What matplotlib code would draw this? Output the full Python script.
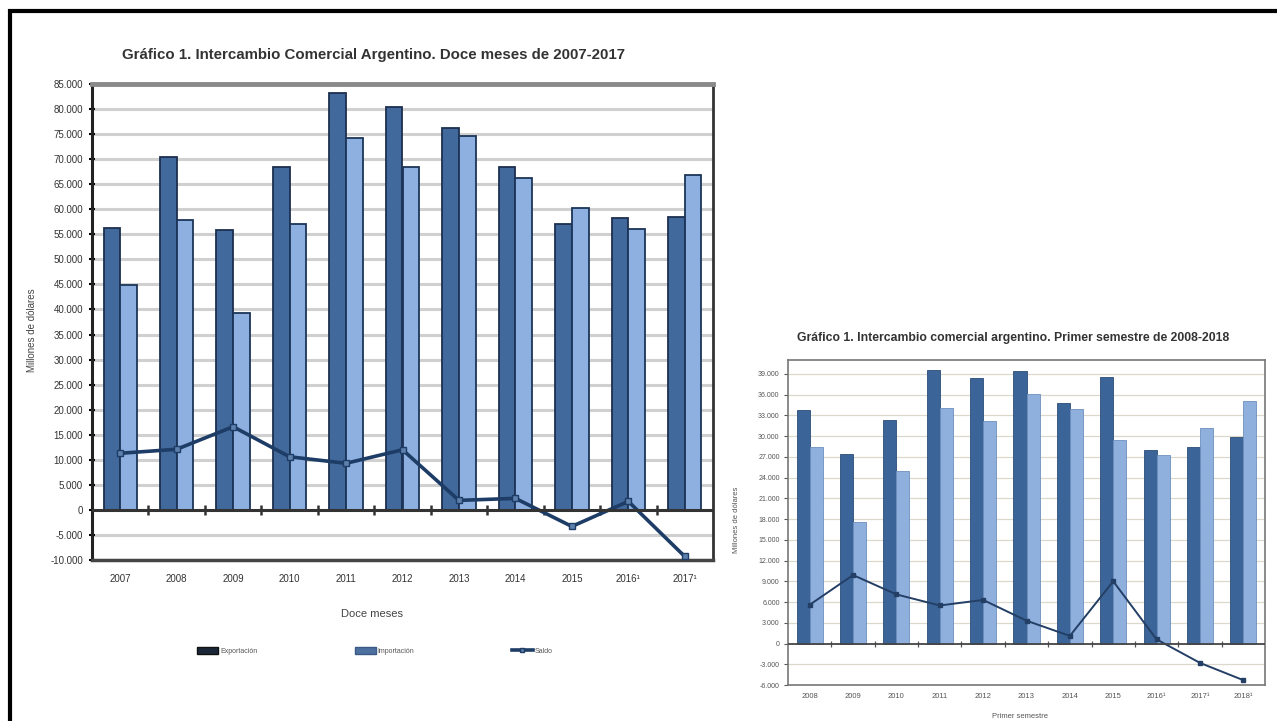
import numpy as np
import matplotlib
matplotlib.use("Agg")
from matplotlib import pyplot as plt
from matplotlib.patches import Rectangle, Patch
from matplotlib.lines import Line2D

plt.rcParams['font.family'] = ['Liberation Sans Narrow', 'Liberation Sans', 'DejaVu Sans']

# Doce meses 2007-2017 (millones de dolares)
years_12m = ["2007", "2008", "2009", "2010", "2011", "2012", "2013", "2014", "2015", "2016¹", "2017¹"]
expo_12m = [56200, 70400, 55900, 68400, 83300, 80400, 76300, 68400, 57000, 58200, 58500]
impo_12m = [44800, 57900, 39300, 57100, 74200, 68400, 74600, 66200, 60300, 56100, 66900]
saldo_12m = [11300, 12100, 16600, 10600, 9300, 12000, 1900, 2300, -3300, 1700, -9300]

# Primer semestre 2008-2018
years_sem = ["2008", "2009", "2010", "2011", "2012", "2013", "2014", "2015", "2016¹", "2017¹", "2018¹"]
expo_sem = [33700, 27400, 32300, 39600, 38400, 39400, 34800, 38600, 28000, 28400, 29800]
impo_sem = [28400, 17600, 25000, 34100, 32200, 36100, 33900, 29400, 27300, 31100, 35000]
saldo_sem = [5600, 9900, 7100, 5500, 6300, 3300, 1100, 9000, 600, -2800, -5300]

DARK = '#41699b'
LIGHT = '#8db0e0'
NAVY = '#1d3c66'


def fmt(v):
    return f"{v:,}".replace(",", ".")


fig = plt.figure(figsize=(12.77, 7.21), dpi=100)

# outer frame
fig.patches.append(Rectangle((10 / 1277, -0.02), 1.2, 1 - 11 / 721 + 0.02,
                             transform=fig.transFigure, fill=False, lw=3, ec='black'))

# ---------------- left chart ----------------
ax = fig.add_axes([92 / 1277, 1 - 560 / 721, 621 / 1277, 476 / 721])
x = np.arange(len(years_12m))
w = 0.295
ax.bar(x - w / 2, expo_12m, w, color=DARK, edgecolor='#1c2f4f', lw=1.3, zorder=3)
ax.bar(x + w / 2, impo_12m, w, color=LIGHT, edgecolor='#1c3558', lw=1.3, zorder=3)
ax.plot(x, saldo_12m, color=NAVY, lw=2.6, marker='s', ms=5, mfc='#5d80ad', mec=NAVY, zorder=4)
ax.set_xlim(-0.5, len(x) - 0.5)
ax.set_ylim(-10000, 85000)
yt = np.arange(-10000, 85001, 5000)
ax.set_yticks(yt)
ax.set_yticklabels([fmt(v) for v in yt], fontsize=7, color='#333333')
ax.set_xticks(x)
ax.set_xticklabels(years_12m, fontsize=7, color='#333333')
ax.tick_params(axis='x', length=0, pad=10)
ax.tick_params(axis='y', direction='inout', length=5, width=1.5, color='black', pad=4)
for v in yt:
    if v != 0:
        ax.axhline(v, color='#d0d0d0', lw=2.2, zorder=1)
ax.axhline(0, color='#333333', lw=2.2, zorder=5)
ax.spines['top'].set_color('#8a8a8a')
ax.spines['top'].set_linewidth(3.5)
ax.spines['left'].set_color('#222222')
ax.spines['left'].set_linewidth(2.2)
ax.spines['bottom'].set_color('#444444')
ax.spines['bottom'].set_linewidth(2.5)
ax.spines['right'].set_color('#333333')
ax.spines['right'].set_linewidth(2)
sec = ax.secondary_xaxis(10000 / 95000)
sec.set_xticks(x[:-1] + 0.5)
sec.set_xticklabels([])
sec.tick_params(direction='inout', length=7, width=1.8, color='#333333')
sec.spines['bottom'].set_visible(False)
sec.spines['top'].set_visible(False)

fig.text(373 / 1277, 1 - 55 / 721, "Gráfico 1. Intercambio Comercial Argentino. Doce meses de 2007-2017",
         ha='center', va='center', fontsize=10.8, fontweight='bold', color='#333333')
fig.text(32 / 1277, 1 - 330 / 721, "Millones de dólares", rotation=90, ha='center', va='center',
         fontsize=7, color='#444444')
fig.text(372 / 1277, 1 - 614 / 721, "Doce meses", ha='center', va='center', fontsize=8, color='#444444')

handles = [Patch(facecolor='#1b2738', edgecolor='#111111'),
           Patch(facecolor='#4c70a0', edgecolor='#3a5a85'),
           Line2D([], [], color=NAVY, lw=2.6, marker='s', ms=3, mfc='#5d80ad')]
fig.legend(handles, ["Exportación", "Importación", "Saldo"], ncol=3, frameon=False,
           loc='center', bbox_to_anchor=(375 / 1277, 1 - 651 / 721), fontsize=5,
           columnspacing=14, handlelength=3.0, handleheight=1.2, handletextpad=0.3,
           labelcolor='#555555')

# ---------------- right chart ----------------
ax2 = fig.add_axes([788 / 1277, 1 - 685 / 721, 477 / 1277, 325 / 721])
x2 = np.arange(len(years_sem))
w2 = 0.3
ax2.bar(x2 - w2 / 2, expo_sem, w2, color='#3b6598', edgecolor='#2c4d78', lw=0.6, zorder=3)
ax2.bar(x2 + w2 / 2, impo_sem, w2, color='#8fb0dd', edgecolor='#6d8fbd', lw=0.6, zorder=3)
ax2.plot(x2, saldo_sem, color='#243f66', lw=1.4, marker='s', ms=2.5, zorder=4)
ax2.set_xlim(-0.5, len(x2) - 0.5)
ax2.set_ylim(-6000, 41000)
yt2 = np.arange(-6000, 39001, 3000)
ax2.set_yticks(yt2)
ax2.set_yticklabels([fmt(v) for v in yt2], fontsize=5, color='#555555')
ax2.set_xticks(x2)
ax2.set_xticklabels(years_sem, fontsize=5.5, color='#555555')
ax2.tick_params(axis='x', length=0, pad=6)
ax2.tick_params(axis='y', direction='out', length=3, width=0.8, color='#555555', pad=3)
for v in yt2:
    if v != 0:
        ax2.axhline(v, color='#dcd8cc', lw=0.9, zorder=1)
ax2.axhline(0, color='#444444', lw=1.3, zorder=5)
for s in ax2.spines.values():
    s.set_color('#777777')
    s.set_linewidth(1.2)
sec2 = ax2.secondary_xaxis(6000 / 47000)
sec2.set_xticks(x2[:-1] + 0.5)
sec2.set_xticklabels([])
sec2.tick_params(direction='inout', length=4, width=0.9, color='#555555')
sec2.spines['bottom'].set_visible(False)
sec2.spines['top'].set_visible(False)

fig.text(1013 / 1277, 1 - 338 / 721,
         "Gráfico 1. Intercambio comercial argentino. Primer semestre de 2008-2018",
         ha='center', va='center', fontsize=8.8, fontweight='bold', color='#333333')
fig.text(737 / 1277, 1 - 520 / 721, "Millones de dólares", rotation=90, ha='center', va='center',
         fontsize=5.5, color='#555555')
fig.text(1020 / 1277, 1 - 716 / 721, "Primer semestre", ha='center', va='center', fontsize=5.5,
         color='#555555')

fig.savefig("out.png", dpi=100)
